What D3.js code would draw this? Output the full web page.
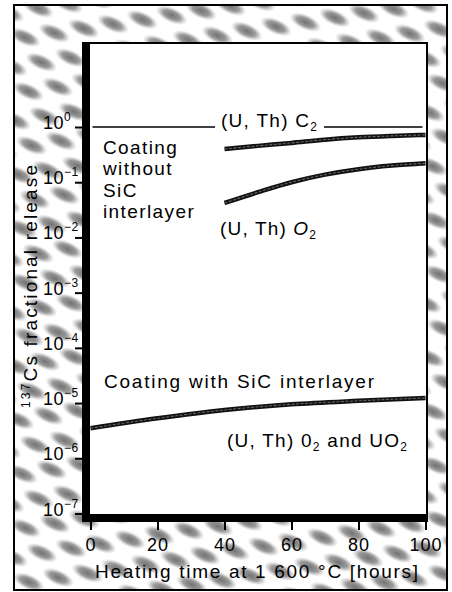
<!DOCTYPE html>
<html>
<head>
<meta charset="utf-8">
<script src="https://cdn.jsdelivr.net/npm/d3@7"></script>
<style>
body { margin: 0; background: #fff; }
svg { display: block; font-family: "Liberation Sans", Arial, sans-serif; }
</style>
</head>
<body>
<svg id="chart"></svg>
<script>
const width = 452;
const height = 592;

// values: heating time [h] -> 137Cs fractional release
const c2Hours = [40, 50, 60, 70, 80, 90, 100];
const c2Release = [0.40, 0.455, 0.515, 0.59, 0.65, 0.69, 0.72];
const o2Hours = [40, 50, 60, 70, 80, 90, 100];
const o2Release = [0.042, 0.066, 0.10, 0.137, 0.172, 0.20, 0.22];
const sicHours = [0, 20, 40, 60, 80, 100];
const sicRelease = [3.5e-6, 5.3e-6, 7.5e-6, 9.5e-6, 1.1e-5, 1.24e-5];
const xTicks = [0, 20, 40, 60, 80, 100];
const yExponents = [0, -1, -2, -3, -4, -5, -6, -7];
const refLevel = 1;

// frame layout
const box = { left: 83, right: 427, top: 43, bottom: 521 };

const svg = d3.select('#chart')
    .attr('width', width)
    .attr('height', height);

const x = d3.scaleLinear().domain([0, 100]).range([90.5, 425.5]);
const y = d3.scaleLog().domain([1e-7, 1]).range([513.5, 127]);

// textured backdrop
const defs = svg.append('defs');
const grad = defs.append('radialGradient').attr('id', 'blob');
grad.append('stop').attr('offset', '0%').attr('stop-color', '#6a6a6a').attr('stop-opacity', 0.95);
grad.append('stop').attr('offset', '55%').attr('stop-color', '#808080').attr('stop-opacity', 0.8);
grad.append('stop').attr('offset', '100%').attr('stop-color', '#a8a8a8').attr('stop-opacity', 0);

const pat = defs.append('pattern')
    .attr('id', 'texture')
    .attr('patternUnits', 'userSpaceOnUse')
    .attr('width', 50)
    .attr('height', 32)
    .attr('patternTransform', 'rotate(24)');
[[13, 8], [38, 24], [38, -8], [-12, 24], [63, 8]].forEach(([cx, cy]) => {
    pat.append('ellipse')
        .attr('cx', cx).attr('cy', cy)
        .attr('rx', 17).attr('ry', 7.5)
        .attr('fill', 'url(#blob)');
});

svg.append('rect')
    .attr('x', 14).attr('y', 5)
    .attr('width', 433).attr('height', 585)
    .attr('fill', '#fff');
svg.append('rect')
    .attr('x', 14).attr('y', 5)
    .attr('width', 433).attr('height', 585)
    .attr('fill', 'url(#texture)')
    .attr('stroke', '#000')
    .attr('stroke-width', 2);

// plot area
svg.append('rect')
    .attr('x', box.left).attr('y', box.top)
    .attr('width', box.right - box.left).attr('height', box.bottom - box.top)
    .attr('fill', '#fff')
    .attr('stroke', '#000')
    .attr('stroke-width', 2);

// thick axes
svg.append('line')
    .attr('x1', box.left + 3.5).attr('x2', box.left + 3.5)
    .attr('y1', box.top - 1).attr('y2', box.bottom)
    .attr('stroke', '#000').attr('stroke-width', 7);
svg.append('line')
    .attr('x1', box.left).attr('x2', box.right + 1)
    .attr('y1', box.bottom - 3.5).attr('y2', box.bottom - 3.5)
    .attr('stroke', '#000').attr('stroke-width', 7);

// x axis
const xAxis = svg.append('g')
    .attr('transform', `translate(0,${box.bottom})`)
    .call(d3.axisBottom(x).tickValues(xTicks).tickSize(9).tickSizeOuter(0).tickPadding(8));
xAxis.select('.domain').remove();
xAxis.selectAll('.tick line').attr('stroke', '#000').attr('stroke-width', 2);
xAxis.selectAll('.tick text')
    .attr('fill', '#000')
    .style('font-size', '18px')
    .style('letter-spacing', '1px')
    .attr('dy', '0.71em');

// y axis
const yAxis = svg.append('g')
    .attr('transform', `translate(${box.left},0)`)
    .call(d3.axisLeft(y).tickValues(yExponents.map(e => Math.pow(10, e))).tickSize(8).tickFormat(''));
yAxis.select('.domain').remove();
yAxis.selectAll('.tick line').attr('stroke', '#000').attr('stroke-width', 2);

const yLabels = svg.append('g');
yExponents.forEach(e => {
    const t = yLabels.append('text')
        .attr('x', 43)
        .attr('y', y(Math.pow(10, e)) + 2)
        .style('font-size', '18px')
        .style('letter-spacing', '0.5px');
    t.append('tspan').text('10');
    t.append('tspan')
        .attr('dy', -8)
        .style('font-size', '12px')
        .text(e === 0 ? '0' : '\u2212' + Math.abs(e));
});

// axis titles
svg.append('text')
    .attr('x', 95).attr('y', 578)
    .attr('textLength', 323)
    .attr('lengthAdjust', 'spacing')
    .style('font-size', '19px')
    .text('Heating time at 1 600 \u00b0C [hours]');

const yTitle = svg.append('text')
    .attr('transform', 'translate(37,408) rotate(-90)')
    .attr('textLength', 243)
    .attr('lengthAdjust', 'spacing')
    .style('font-size', '19px');
yTitle.append('tspan').attr('dy', -7).style('font-size', '12px').text('137');
yTitle.append('tspan').attr('dy', 7).text('Cs fractional release');

// 100 % reference line, broken by the (U, Th) C2 label
const refLabel = svg.append('text')
    .attr('x', 221).attr('y', 127)
    .attr('textLength', 96)
    .attr('lengthAdjust', 'spacing')
    .style('font-size', '19px');
refLabel.append('tspan').text('(U, Th) C');
refLabel.append('tspan').attr('dy', 4).style('font-size', '12px').text('2');

svg.append('line')
    .attr('x1', x(0) + 2).attr('x2', 215)
    .attr('y1', y(refLevel)).attr('y2', y(refLevel))
    .attr('stroke', '#000').attr('stroke-width', 1.5);
svg.append('line')
    .attr('x1', 324).attr('x2', x(100) - 3)
    .attr('y1', y(refLevel)).attr('y2', y(refLevel))
    .attr('stroke', '#000').attr('stroke-width', 1.5);

// release curves
const line = d3.line()
    .x(d => x(d[0]))
    .y(d => y(d[1]))
    .curve(d3.curveMonotoneX);

const series = [
    d3.zip(c2Hours, c2Release),
    d3.zip(o2Hours, o2Release),
    d3.zip(sicHours, sicRelease),
];

svg.append('g').selectAll('path')
    .data(series)
    .enter().append('path')
    .attr('d', line)
    .attr('fill', 'none')
    .attr('stroke', '#111')
    .attr('stroke-width', 4.5);
svg.append('g').selectAll('path')
    .data(series)
    .enter().append('path')
    .attr('d', line)
    .attr('fill', 'none')
    .attr('stroke', '#666')
    .attr('stroke-width', 1.1)
    .attr('stroke-dasharray', '3 1.5');

// annotations
const notes = svg.append('g').style('font-size', '19px');
['Coating', 'without', 'SiC', 'interlayer'].forEach((s, i) => {
    notes.append('text')
        .attr('x', 103)
        .attr('y', 154 + i * 21.3)
        .style('letter-spacing', '1.4px')
        .text(s);
});

const o2Label = notes.append('text')
    .attr('x', 220).attr('y', 235)
    .attr('textLength', 96)
    .attr('lengthAdjust', 'spacing');
o2Label.append('tspan').text('(U, Th) ');
o2Label.append('tspan').style('font-style', 'italic').text('O');
o2Label.append('tspan').attr('dy', 4).style('font-size', '12px').text('2');

notes.append('text')
    .attr('x', 104).attr('y', 388)
    .attr('textLength', 270)
    .attr('lengthAdjust', 'spacing')
    .text('Coating with SiC interlayer');

const uo2Label = notes.append('text')
    .attr('x', 227).attr('y', 447)
    .attr('textLength', 180)
    .attr('lengthAdjust', 'spacing');
uo2Label.append('tspan').text('(U, Th) 0');
uo2Label.append('tspan').attr('dy', 4).style('font-size', '12px').text('2');
uo2Label.append('tspan').attr('dy', -4).text(' and UO');
uo2Label.append('tspan').attr('dy', 4).style('font-size', '12px').text('2');
</script>
</body>
</html>
